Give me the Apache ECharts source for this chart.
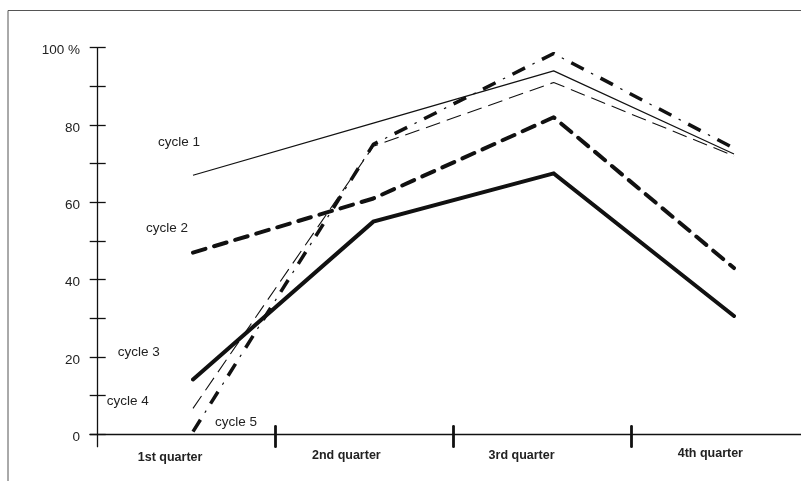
<!DOCTYPE html>
<html>
<head>
<meta charset="utf-8">
<script src="https://cdn.jsdelivr.net/npm/echarts@6/dist/echarts.min.js"></script>
<style>
html,body{margin:0;padding:0;background:#fff;}
#chart{width:801px;height:481px;}
</style>
</head>
<body>
<div id="chart"></div>
<script>
// ---- data ----
const quarters = ['1st quarter', '2nd quarter', '3rd quarter', '4th quarter'];
const cycleNames = ['cycle 1', 'cycle 2', 'cycle 3', 'cycle 4', 'cycle 5'];
const cycle1 = [67, 80.5, 94, 72.5];
const cycle2 = [47, 61, 82, 43];
const cycle3 = [14.2, 55, 67.5, 30.6];
const cycle4 = [6.7, 74.5, 91, 72];
const cycle5 = [0.7, 75, 98.5, 74];
const yLabelTicks = [0, 20, 40, 60, 80, 100];
const yTopLabel = '100 %';

// ---- layout / style ----
const FONT = '"Liberation Sans", Arial, sans-serif';
const INK = '#111';
const TXT = '#222';
const labelPos = [[158, 142.5], [146, 228.5], [117.7, 352.5], [106.7, 401.5], [215, 422.5]];
const catPad = [[3.3, 33, 0, 0], [1.7, 36, 0, 0], [1.7, 41, 0, 0], [0, 19, 0, 0]];

const rich = {};
catPad.forEach((p, i) => {
  rich['q' + i] = { padding: p, fontFamily: FONT, fontSize: 12.5, fontWeight: 'bold', color: TXT };
});
const yRich = { y: { padding: [6, 0, 0, 0], fontFamily: FONT, fontSize: 13.5, color: TXT } };

const hiddenX = gi => ({ gridIndex: gi, type: 'value', show: false, min: 0, max: 1 });
const hiddenY = gi => ({ gridIndex: gi, type: 'value', show: false, min: 0, max: 100 });

const option = {
  animation: false,
  backgroundColor: '#fff',
  grid: [
    { left: 8, top: 10.5, right: -20, bottom: -20, show: true, borderColor: '#555', borderWidth: 1, backgroundColor: 'transparent', outerBoundsMode: 'none' },
    { left: 97.7, top: 47.7, right: 3, bottom: 46.7, outerBoundsMode: 'none' },
    { left: 193, top: 47.7, right: 67, bottom: 46.7, outerBoundsMode: 'none' },
    { left: 97.7, top: 47.7, width: 711, bottom: 46.7, outerBoundsMode: 'none' },
    { left: 90, top: 47.7, right: -20, bottom: 34.3, outerBoundsMode: 'none' }
  ],
  xAxis: [
    hiddenX(0),
    hiddenX(1),
    { gridIndex: 2, type: 'category', data: quarters, boundaryGap: false, show: false },
    {
      gridIndex: 3, type: 'category', data: quarters, boundaryGap: true, offset: -8,
      axisLine: { show: false, onZero: false },
      axisTick: { show: true, length: 20.4, interval: (idx) => idx !== 0, lineStyle: { color: INK, width: 2.8, cap: 'round' } },
      axisLabel: {
        margin: 21, interval: 0,
        formatter: (v, i) => '{q' + i + '|' + v + '}',
        rich: rich
      },
      splitLine: { show: false }
    },
    {
      gridIndex: 4, type: 'value', min: 0, max: 1, offset: -12.4,
      axisLine: { show: true, onZero: false, lineStyle: { color: INK, width: 1.3 } },
      axisTick: { show: false }, axisLabel: { show: false }, splitLine: { show: false }
    }
  ],
  yAxis: [
    hiddenY(0),
    {
      gridIndex: 1, type: 'value', min: 0, max: 100, interval: 10, position: 'left',
      axisLine: { show: false, onZero: false },
      axisTick: { show: true, length: 8, lineStyle: { color: INK, width: 1.3 } },
      axisLabel: {
        margin: 17.7, rich: yRich,
        formatter: v => yLabelTicks.indexOf(v) < 0 ? '' : '{y|' + (v === 100 ? yTopLabel : String(v)) + '}'
      },
      splitLine: { show: false }
    },
    {
      gridIndex: 1, type: 'value', min: 0, max: 100, interval: 10, position: 'left',
      axisLine: { show: false, onZero: false },
      axisTick: { show: true, inside: true, length: 8, lineStyle: { color: INK, width: 1.3 } },
      axisLabel: { show: false }, splitLine: { show: false }
    },
    hiddenY(2),
    hiddenY(3),
    {
      gridIndex: 4, type: 'value', min: 0, max: 100, position: 'left', offset: -7.7,
      axisLine: { show: true, onZero: false, lineStyle: { color: INK, width: 1.3 } },
      axisTick: { show: false }, axisLabel: { show: false }, splitLine: { show: false }
    }
  ],
  series: [
    { name: cycleNames[0], type: 'line', xAxisIndex: 2, yAxisIndex: 3, data: cycle1, symbol: 'none',
      lineStyle: { color: INK, width: 1.2 } },
    { name: cycleNames[1], type: 'line', xAxisIndex: 2, yAxisIndex: 3, data: cycle2, symbol: 'none',
      lineStyle: { color: INK, width: 4, type: [13, 9], cap: 'round', join: 'round' } },
    { name: cycleNames[2], type: 'line', xAxisIndex: 2, yAxisIndex: 3, data: cycle3, symbol: 'none',
      lineStyle: { color: INK, width: 4, cap: 'round', join: 'miter' } },
    { name: cycleNames[3], type: 'line', xAxisIndex: 2, yAxisIndex: 3, data: cycle4, symbol: 'none',
      lineStyle: { color: INK, width: 1.1, type: [15, 7] } },
    { name: cycleNames[4], type: 'line', xAxisIndex: 2, yAxisIndex: 3, data: cycle5, symbol: 'none',
      lineStyle: { color: INK, width: 3.5, type: [14, 19] } },
    { name: cycleNames[4] + ' dots', type: 'line', xAxisIndex: 2, yAxisIndex: 3, data: cycle5, symbol: 'none',
      lineStyle: { color: INK, width: 1.2, type: [2.5, 30.5], dashOffset: 10.75 } }
  ],
  graphic: cycleNames.map((n, i) => ({
    type: 'text', x: labelPos[i][0], y: labelPos[i][1], silent: true,
    style: { text: n, fontFamily: FONT, fontSize: 13.5, fill: TXT, align: 'left', verticalAlign: 'middle' }
  }))
};

const chart = echarts.init(document.getElementById('chart'), null, { renderer: 'canvas' });
chart.setOption(option);
</script>
</body>
</html>
